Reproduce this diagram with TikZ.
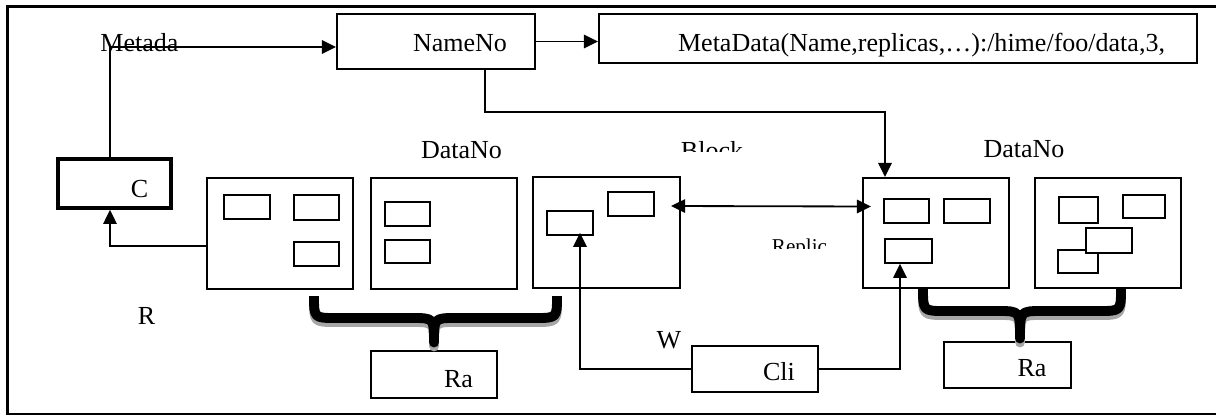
\documentclass[tikz,border=0pt]{standalone}
\usepackage{fontspec}
\setmainfont{Liberation Serif}
\usetikzlibrary{positioning,fit,calc,arrows.meta}

\begin{document}
\begin{tikzpicture}[x=0.025cm,y=-0.025cm,
    font=\fontsize{18.5}{22}\selectfont,
    >={Triangle[length=10pt,width=9.5pt]},
    box/.style={draw,line width=1.4pt,inner sep=0pt},
    cell/.style={draw,line width=1.1pt,fill=white,inner sep=0pt},
    conn/.style={line width=1.3pt},
    txt/.style={anchor=base,inner sep=0pt}]

  \useasboundingbox (0,0) rectangle (1216,416);

  % frame, open on the right
  \draw[line width=1.6pt] (1216,6.5) -- (7.5,6.5) -- (7.5,414) -- (1216,414);

  % name node and metadata
  \node[box,fit={(337,14) (535,69)}] (nameno) {};
  \node[box,fit={(599,14) (1197,63)}] (meta) {};
  \node[txt] (nametxt) at (460,51) {NameNo};
  \node[txt] (metatxt) at (921.5,51) {MetaData(Name,replicas,\dots):/hime/foo/data,3,};
  \node[txt] (metalbl) at (139.5,51) {Metada};

  % client of the metadata
  \node[box,line width=2.6pt,fit={(58,159) (171,208)}] (cbox) {};
  \node[txt] (ctxt) at (139.5,197) {C};
  \node[txt] (rtxt) at (146.5,324) {R};

  % data nodes
  \foreach \n/\xa/\ya/\xb/\yb in {d1/207/178/353/289, d2/371/178/517/289,
      d3/533/177/680/288, d4/863/178/1009/288, d5/1035/178/1181/288}
    \node[box,fit={(\xa,\ya) (\xb,\yb)}] (\n) {};
  \node[txt] (dtxtl) at (461.5,158) {DataNo};
  \node[txt] (dtxtr) at (1024,157) {DataNo};

  % blocks inside the data nodes
  \foreach \n/\xa/\ya/\xb/\yb in {s1a/224/195/270/219, s1b/294/195/339/220,
      s1c/294/242/339/266, s2a/385/202/430/226, s2b/385/240/430/263,
      s3a/547/211/593/235, s3b/608/192/654/216, s4a/884/199/929/223,
      s4b/944/199/990/223, s4c/885/239/932/263, s5a/1059/197/1098/223,
      s5b/1123/195/1165/218, s5d/1058/250/1098/273, s5c/1086/228/1132/253}
    \node[cell,fit={(\xa,\ya) (\xb,\yb)}] (\n) {};

  % cut-off labels
  \begin{scope}
    \clip (660,130) rectangle (770,151);
    \node[txt] (blocktxt) at (712,159) {Block};
  \end{scope}
  \begin{scope}
    \clip (760,230) rectangle (840,248);
    \node[txt,font=\fontsize{15}{18}\selectfont] (repltxt) at (799.5,253) {Replic};
  \end{scope}

  % racks and client
  \node[box,fit={(371,351) (497,398)}] (rack1) {};
  \node[box,fit={(944,342) (1071,388)}] (rack2) {};
  \node[box,fit={(692,346) (818,392)}] (cli) {};
  \node[txt] (ratxtl) at (458.5,387) {Ra};
  \node[txt] (ratxtr) at (1032,376) {Ra};
  \node[txt] (clitxt) at (779,380) {Cli};
  \node[txt] (wtxt) at (669,348) {W};

  % braces with shadow
  \foreach \xa/\xm/\xb/\yt/\yh/\yb in {314/434/557/296/318/342.5,
      923/1020/1121/288/311/338.5} {
    \foreach \c/\dy in {black!35/4, black/0}
      \draw[line width=7pt,draw=\c,line join=round,shift={(0,\dy)}]
        (\xa,\yt) .. controls (\xa,\yh) .. (\xa+22,\yh) -- (\xm-22,\yh)
        .. controls (\xm,\yh) .. (\xm,\yb) .. controls (\xm,\yh) .. (\xm+22,\yh)
        -- (\xb-22,\yh) .. controls (\xb,\yh) .. (\xb,\yt);
  }

  % connectors
  \draw[conn,->] ($(cbox.north)+(-4.5,0)$) |- ($(nameno.west)+(0,5.5)$);
  \draw[conn,->] (nameno.east) -- (nameno.east -| meta.west);
  \draw[conn,->] ($(nameno.south)+(49,0)$) -- ++(0,42) -| ($(d4.north)+(-51,0)$);
  \draw[conn,->] ($(d1.west)+(0,12.5)$) -| ($(cbox.south)+(-4.5,0)$);
  \draw[conn,<->] ($(d3.east)+(-10,-26.5)$) -- ($(d4.west)+(9,-26.5)$);
  \draw[conn,->] (cli.west) -| ($(s3a.south)+(10,-3)$);
  \draw[conn,->] (cli.east) -| ($(s4c.south)+(-8.5,0)$);

\end{tikzpicture}
\end{document}
